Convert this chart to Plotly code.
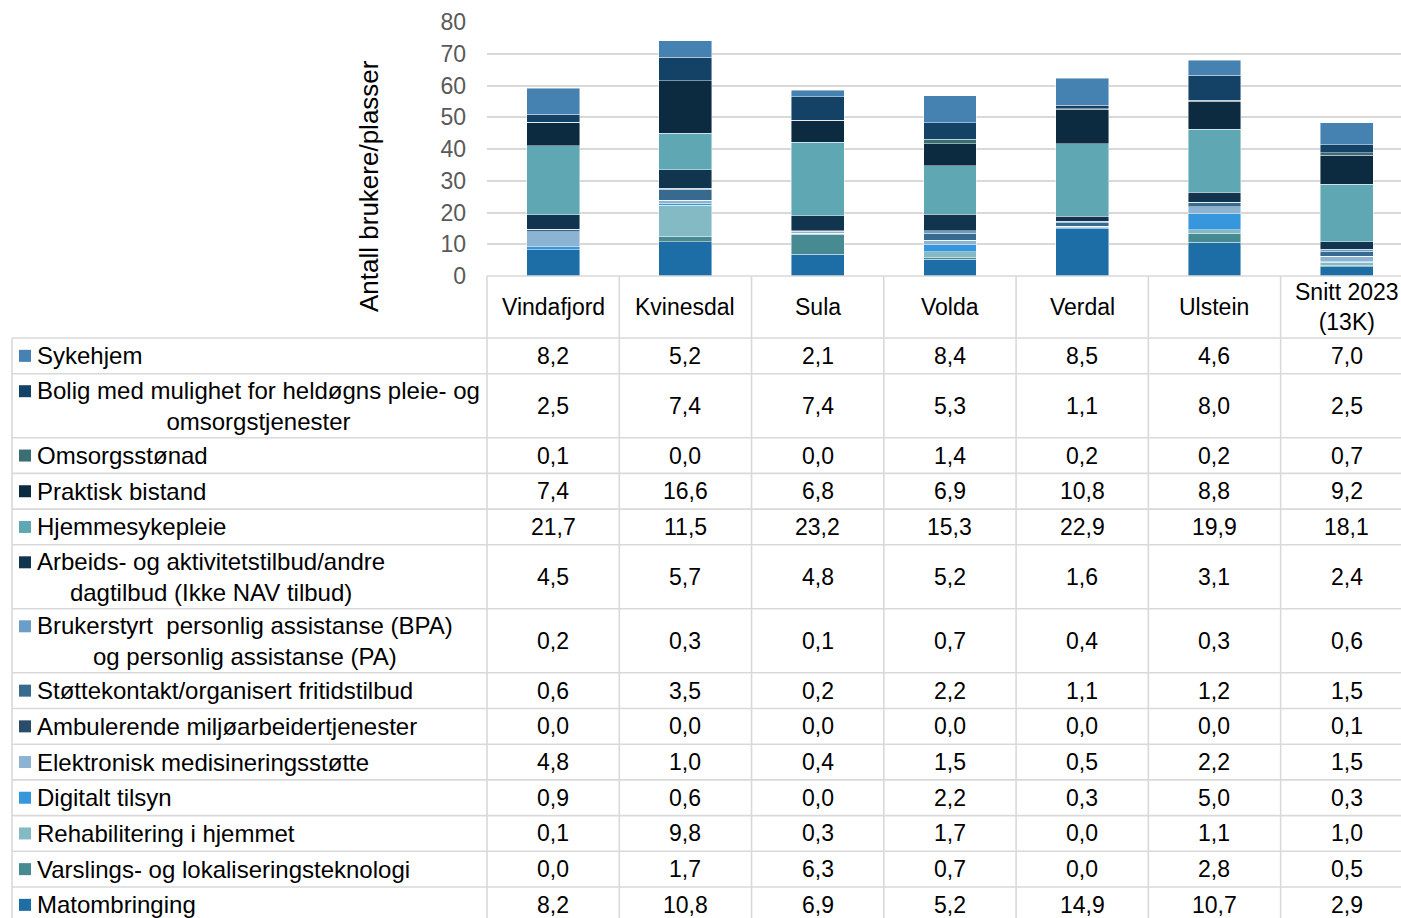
import plotly.graph_objects as go

# ---------------- data ----------------
categories = ["Vindafjord", "Kvinesdal", "Sula", "Volda", "Verdal", "Ulstein", "Snitt 2023<br>(13K)"]

# series listed top-of-table first (top of stack first)
series_names = [
    "Sykehjem",
    "Bolig med mulighet for heldøgns pleie- og<br>omsorgstjenester",
    "Omsorgsstønad",
    "Praktisk bistand",
    "Hjemmesykepleie",
    "Arbeids- og aktivitetstilbud/andre<br>dagtilbud (Ikke NAV tilbud)",
    "Brukerstyrt  personlig assistanse (BPA)<br>og personlig assistanse (PA)",
    "Støttekontakt/organisert fritidstilbud",
    "Ambulerende miljøarbeidertjenester",
    "Elektronisk medisineringsstøtte",
    "Digitalt tilsyn",
    "Rehabilitering i hjemmet",
    "Varslings- og lokaliseringsteknologi",
    "Matombringing",
]

sykehjem = [8.2, 5.2, 2.1, 8.4, 8.5, 4.6, 7.0]
bolig = [2.5, 7.4, 7.4, 5.3, 1.1, 8.0, 2.5]
omsorgsstonad = [0.1, 0.0, 0.0, 1.4, 0.2, 0.2, 0.7]
praktisk = [7.4, 16.6, 6.8, 6.9, 10.8, 8.8, 9.2]
hjemmesykepleie = [21.7, 11.5, 23.2, 15.3, 22.9, 19.9, 18.1]
arbeids = [4.5, 5.7, 4.8, 5.2, 1.6, 3.1, 2.4]
bpa = [0.2, 0.3, 0.1, 0.7, 0.4, 0.3, 0.6]
stottekontakt = [0.6, 3.5, 0.2, 2.2, 1.1, 1.2, 1.5]
ambulerende = [0.0, 0.0, 0.0, 0.0, 0.0, 0.0, 0.1]
elektronisk = [4.8, 1.0, 0.4, 1.5, 0.5, 2.2, 1.5]
digitalt = [0.9, 0.6, 0.0, 2.2, 0.3, 5.0, 0.3]
rehabilitering = [0.1, 9.8, 0.3, 1.7, 0.0, 1.1, 1.0]
varslings = [0.0, 1.7, 6.3, 0.7, 0.0, 2.8, 0.5]
matombringing = [8.2, 10.8, 6.9, 5.2, 14.9, 10.7, 2.9]

series_values = [sykehjem, bolig, omsorgsstonad, praktisk, hjemmesykepleie, arbeids, bpa,
                 stottekontakt, ambulerende, elektronisk, digitalt, rehabilitering,
                 varslings, matombringing]

series_colors = ["#4682B1", "#144266", "#3B6E73", "#0C2A40", "#5FA8B3", "#11354F", "#6A9EC8",
                 "#386A8F", "#294D69", "#8DB3D3", "#3797DC", "#83BAC4", "#488A92", "#1D6DA6"]

y_ticks = [0, 10, 20, 30, 40, 50, 60, 70, 80]

# ---------------- geometry (reference pixel frame) ----------------
W, H = 1401, 918
PL, PR, PT, PB = 487, 1401, 22, 276
XR = [-0.5, 6.41]
FONT = "Liberation Sans, Arial, sans-serif"
FS = 23
FS_LABEL = 24
GRID = "#D9D9D9"


def px(x):
    return (x - PL) / (PR - PL)


def py(y):
    return (PB - y) / (PB - PT)


def cat_px(v):
    return PL + (v - XR[0]) / (XR[1] - XR[0]) * (PR - PL)


fig = go.Figure()
# bottom of stack first
for name, vals, col in reversed(list(zip(series_names, series_values, series_colors))):
    fig.add_trace(go.Bar(
        x=list(range(len(categories))), y=vals, name=name.replace("<br>", " "),
        marker=dict(color=col, line=dict(color="rgba(255,255,255,0.55)", width=0.8)),
        width=0.4, showlegend=False,
    ))

shapes = []
annotations = []

# table rows
row_h = []
for n in series_names:
    row_h.append(64 if "<br>" in n else 35.7)
top = 338
row_bounds = [top]
for h in row_h:
    row_bounds.append(row_bounds[-1] + h)

line = dict(color=GRID, width=1.6)
# horizontal lines
shapes.append(dict(type="line", xref="paper", yref="paper", x0=px(PL), x1=px(PR + 2),
                   y0=py(PB), y1=py(PB), line=line))
for yb in row_bounds:
    shapes.append(dict(type="line", xref="paper", yref="paper", x0=px(12), x1=px(PR + 2),
                       y0=py(yb), y1=py(yb), line=line))
# vertical lines
shapes.append(dict(type="line", xref="paper", yref="paper", x0=px(12), x1=px(12),
                   y0=py(top), y1=py(H + 5), line=line))
for i in range(len(categories)):
    xb = cat_px(i - 0.5)
    shapes.append(dict(type="line", xref="paper", yref="paper", x0=px(xb), x1=px(xb),
                       y0=py(PB), y1=py(H + 5), line=line))

# header labels
for i, c in enumerate(categories):
    annotations.append(dict(x=px(cat_px(i)), y=py(307), xref="paper", yref="paper", text=c,
                            showarrow=False, xanchor="center", yanchor="middle", align="center",
                            font=dict(family=FONT, size=FS, color="#000000")))

# row labels, keys and values
for r, (name, vals, col) in enumerate(zip(series_names, series_values, series_colors)):
    yc = (row_bounds[r] + row_bounds[r + 1]) / 2
    two = "<br>" in name
    key_y = yc - 14.5 if two else yc
    shapes.append(dict(type="rect", xref="paper", yref="paper", x0=px(19), x1=px(31),
                       y0=py(key_y - 6), y1=py(key_y + 6), fillcolor=col, line=dict(width=0)))
    annotations.append(dict(x=px(35), y=py(yc), xref="paper", yref="paper", text=name,
                            showarrow=False, xanchor="left", yanchor="middle", align="center",
                            font=dict(family=FONT, size=FS_LABEL, color="#000000")))
    for i, v in enumerate(vals):
        annotations.append(dict(x=px(cat_px(i)), y=py(yc), xref="paper", yref="paper",
                                text=f"{v:.1f}".replace(".", ","), showarrow=False,
                                xanchor="center", yanchor="middle",
                                font=dict(family=FONT, size=FS, color="#000000")))

# y axis title
annotations.append(dict(x=px(369), y=py(186), xref="paper", yref="paper",
                        text="Antall brukere/plasser", textangle=-90, showarrow=False,
                        xanchor="center", yanchor="middle",
                        font=dict(family=FONT, size=26, color="#000000")))

fig.update_layout(
    width=W, height=H,
    margin=dict(l=PL, r=W - PR, t=PT, b=H - PB, autoexpand=False),
    paper_bgcolor="white", plot_bgcolor="white",
    barmode="stack", bargap=0.6,
    font=dict(family=FONT, size=FS),
    xaxis=dict(range=XR, showticklabels=False, showgrid=False, zeroline=False,
               showline=False, ticks=""),
    yaxis=dict(range=[0, 80], tickvals=y_ticks, showgrid=True, gridcolor=GRID, gridwidth=1.6,
               zeroline=False, showline=False, ticks="",
               tickfont=dict(family=FONT, size=FS, color="#595959"),
               ticklabelstandoff=20),
    shapes=shapes, annotations=annotations,
)

fig.write_html(
    "out.html",
    config={"displayModeBar": False},
    post_script="document.body.style.margin='0';document.body.style.overflow='hidden';",
)
